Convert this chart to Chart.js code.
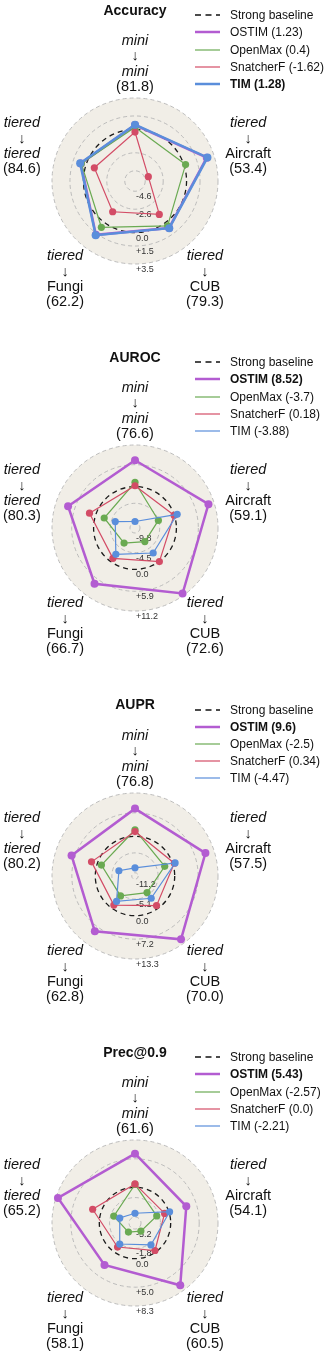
<!DOCTYPE html>
<html>
<head>
<meta charset="utf-8">
<script src="https://cdn.jsdelivr.net/npm/chart.js@4.4.1/dist/chart.umd.min.js"></script>
<style>
body { margin: 0; background: #fff; font-family: "Liberation Sans", Arial, sans-serif; color: #111; }
#page { position: relative; width: 332px; height: 1354px; overflow: hidden; }
.title { position: absolute; left: 35px; width: 200px; text-align: center; font-weight: bold; font-size: 14px; line-height: 18px; }
.legend { position: absolute; left: 195px; font-size: 12px; }
.legend div { display: flex; align-items: center; height: 17.2px; white-space: nowrap; }
.legend svg { margin-right: 10px; flex: none; }
canvas { position: absolute; left: 0; }
</style>
</head>
<body>
<div id="page"></div>
<script>
// axes (source -> target) and methods
const axisFrom = ['mini', 'tiered', 'tiered', 'tiered', 'tiered'];
const axisTo = ['mini', 'Aircraft', 'CUB', 'Fungi', 'tiered'];
const methods = ['OSTIM', 'OpenMax', 'SnatcherF', 'TIM'];
const metrics = ['Accuracy', 'AUROC', 'AUPR', 'Prec@0.9'];

// Accuracy (difference to strong baseline)
const accBase = [81.8, 53.4, 79.3, 62.2, 84.6];
const accTicks = [-4.6, -2.6, 0, 1.5, 3.5];
const accMin = -5.74;
const accOSTIM = [0.49, 2.66, 0.72, 1.67, 0.6];
const accOpenMax = [0.24, 0.18, 0.43, 0.63, 0.54];
const accSnatcherF = [-0.29, -4.18, -1.14, -1.51, -0.98];
const accTIM = [0.53, 2.74, 0.75, 1.71, 0.68];
const accMeans = [1.23, 0.4, -1.62, 1.28];

// AUROC
const aurocBase = [76.6, 59.1, 72.6, 66.7, 80.3];
const aurocTicks = [-9.8, -4.5, 0, 5.9, 11.2];
const aurocMin = -11.15;
const aurocOSTIM = [7.1, 9.65, 10.65, 7.4, 7.8];
const aurocOpenMax = [1.17, -4.53, -6.64, -6.14, -2.43];
const aurocSnatcherF = [0.23, -0.08, 0.02, -1.04, 1.73];
const aurocTIM = [-9.4, 0.79, -2.83, -2.38, -5.56];
const aurocMeans = [8.52, -3.7, 0.18, -3.88];

// AUPR
const auprBase = [76.8, 57.5, 70.0, 62.8, 80.2];
const auprTicks = [-11.2, -5.1, 0, 7.2, 13.3];
const auprMin = -12.2;
const auprOSTIM = [8.5, 10.55, 11.85, 8.8, 8.3];
const auprOpenMax = [2.0, -2.6, -5.9, -4.65, -1.35];
const auprSnatcherF = [1.45, 0.5, -0.95, -1.15, 1.85];
const auprTIM = [-9.7, 0.75, -3.75, -2.55, -7.0];
const auprMeans = [9.6, -2.5, 0.34, -4.47];

// Prec@0.9
const precBase = [61.6, 54.1, 60.5, 58.1, 65.2];
const precTicks = [-5.2, -1.8, 0, 5.0, 8.3];
const precMin = -6.26;
const precOSTIM = [5.9, 3.2, 7.25, 2.85, 7.95];
const precOpenMax = [0.5, -2.25, -4.5, -4.3, -2.35];
const precSnatcherF = [0.6, -0.8, -0.3, -1.05, 1.55];
const precTIM = [-4.55, 0.12, -1.5, -1.7, -3.45];
const precMeans = [5.43, -2.57, 0.0, -2.21];

const FONT = '"Liberation Sans", Arial, sans-serif';
const colors = ['#b35cd1', '#6aaa52', '#d34c66', '#5a8edb'];
const centers = [181, 528, 875.5, 1223];

function fmtTick(v) { return v > 0 ? '+' + v.toFixed(1) : v.toFixed(1); }
function fmtMean(v) { return Number.isInteger(v) ? v.toFixed(1) : String(v); }
function isItalic(t) { return t === 'mini' || t === 'tiered'; }

const axisText = {
  id: 'axisText',
  beforeDatasetsDraw(chart, args, opts) {
    const r = chart.scales.r, ctx = chart.ctx;
    ctx.save();
    ctx.font = '9px ' + FONT;
    ctx.fillStyle = '#333';
    ctx.textAlign = 'left';
    ctx.textBaseline = 'middle';
    opts.ticks.forEach(v => {
      const d = r.getDistanceFromCenterForValue(v);
      ctx.fillText(fmtTick(v), r.xCenter + 1, r.yCenter + d + 5.5);
    });
    ctx.restore();
  },
  afterDatasetsDraw(chart, args, opts) {
    const r = chart.scales.r, ctx = chart.ctx;
    ctx.save();
    ctx.fillStyle = '#111';
    ctx.textAlign = 'center';
    ctx.textBaseline = 'middle';
    axisFrom.forEach((src, i) => {
      const p = r.getPointPosition(i, r.drawingArea + 36);
      const lines = [[src, true], ['↓', false], [axisTo[i], isItalic(axisTo[i])], ['(' + opts.base[i].toFixed(1) + ')', false]];
      lines.forEach(([t, it], k) => {
        ctx.font = (it ? 'italic ' : '') + '14.5px ' + FONT;
        ctx.fillText(t, p.x, p.y + 2 + (k - 1.5) * 15.3);
      });
    });
    ctx.restore();
  }
};

const charts = [
  { base: accBase, ticks: accTicks, min: accMin, series: [accOSTIM, accOpenMax, accSnatcherF, accTIM], means: accMeans },
  { base: aurocBase, ticks: aurocTicks, min: aurocMin, series: [aurocOSTIM, aurocOpenMax, aurocSnatcherF, aurocTIM], means: aurocMeans },
  { base: auprBase, ticks: auprTicks, min: auprMin, series: [auprOSTIM, auprOpenMax, auprSnatcherF, auprTIM], means: auprMeans },
  { base: precBase, ticks: precTicks, min: precMin, series: [precOSTIM, precOpenMax, precSnatcherF, precTIM], means: precMeans }
];

function swatch(color, width, dash) {
  return '<svg width="25" height="8"><line x1="0" y1="4" x2="25" y2="4" stroke="' + color +
    '" stroke-width="' + width + '"' + (dash ? ' stroke-dasharray="6 4.5"' : '') + '/></svg>';
}

const page = document.getElementById('page');

charts.forEach((c, k) => {
  const cy = centers[k];

  const canvas = document.createElement('canvas');
  canvas.width = 332;
  canvas.height = 309;
  canvas.style.top = (cy - 180) + 'px';
  page.appendChild(canvas);

  const title = document.createElement('div');
  title.className = 'title';
  title.textContent = metrics[k];
  title.style.top = (cy - 171.5 - 9) + 'px';
  page.appendChild(title);

  const best = Math.max(...c.means);
  const legend = document.createElement('div');
  legend.className = 'legend';
  legend.style.top = (cy - 165.8 - 8.6) + 'px';
  let html = '<div>' + swatch('#111', 1.3, true) + '<span>Strong baseline</span></div>';
  methods.forEach((m, i) => {
    const w = c.means[i] > 1 ? 2.5 : 1.2;
    const bold = c.means[i] === best ? ' style="font-weight:bold"' : '';
    html += '<div>' + swatch(colors[i], w, false) + '<span' + bold + '>' + m + ' (' + fmtMean(c.means[i]) + ')</span></div>';
  });
  legend.innerHTML = html;
  page.appendChild(legend);

  new Chart(canvas, {
    type: 'radar',
    data: {
      labels: axisTo,
      datasets: methods.map((m, i) => ({
        label: m,
        data: c.series[i],
        borderColor: colors[i],
        backgroundColor: colors[i],
        pointBackgroundColor: colors[i],
        pointBorderColor: colors[i],
        borderWidth: c.means[i] > 1 ? 2.5 : 1.2,
        pointRadius: c.means[i] > 1 ? 4 : 3.6,
        pointBorderWidth: 0,
        fill: false,
        order: methods.length - i
      }))
    },
    options: {
      responsive: false,
      animation: false,
      layout: { padding: { left: 52, right: 114, top: 97, bottom: 46 } },
      plugins: {
        legend: { display: false },
        tooltip: { enabled: false },
        axisText: { ticks: c.ticks, base: c.base }
      },
      scales: {
        r: {
          min: c.min,
          max: c.ticks[c.ticks.length - 1],
          backgroundColor: '#f1eee7',
          angleLines: { display: false },
          grid: {
            circular: true,
            color: ctx => ctx.tick && ctx.tick.value === 0 ? '#1a1a1a' : '#b5b5b5',
            lineWidth: ctx => ctx.tick && ctx.tick.value === 0 ? 1.3 : 0.9
          },
          border: { dash: ctx => ctx.tick && ctx.tick.value === 0 ? [5, 4] : [4, 3] },
          pointLabels: { display: false },
          ticks: { display: false },
          afterBuildTicks: s => { s.ticks = [c.min].concat(c.ticks).map(v => ({ value: v })); }
        }
      }
    },
    plugins: [axisText]
  });
});
</script>
</body>
</html>
